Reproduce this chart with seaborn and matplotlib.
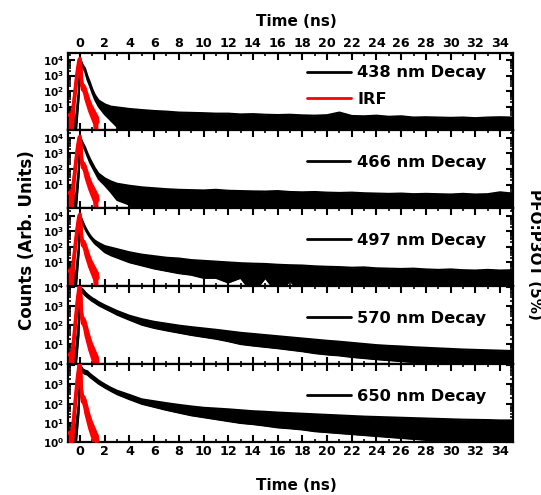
import matplotlib
matplotlib.use("Agg")
import matplotlib.pyplot as plt
from matplotlib.lines import Line2D
from matplotlib.ticker import MultipleLocator, FixedLocator, FixedFormatter, LogLocator, NullFormatter
import numpy as np
import pandas as pd
import seaborn as sns

# ---------------------------------------------------------------- data
# time axis shared by all decay traces (ns)
time_ns = [-0.95, -0.6, -0.3, -0.1, 0.0, 0.1, 0.2, 0.4, 0.6, 0.8, 1.0, 1.2, 1.5, 2.0, 2.5, 3.0,
           4, 5, 6, 7, 8, 9, 10, 11, 12, 13, 14, 15, 16, 17, 18, 19, 20,
           21, 22, 23, 24, 25, 26, 27, 28, 29, 30, 31, 32, 33, 34, 35.05]

# upper / lower edge of each noisy decay trace, log10(counts)
decay_438_hi = [0.0, 0.1, 0.4, 2.0, 4.0, 3.9, 3.7, 3.45, 2.95, 2.55, 2.1, 1.75, 1.4, 1.15, 1.0, 0.95,
                0.85, 0.78, 0.72, 0.68, 0.62, 0.6, 0.58, 0.55, 0.55, 0.5, 0.52, 0.48, 0.46, 0.48, 0.44, 0.42, 0.45,
                0.62, 0.4, 0.38, 0.42, 0.35, 0.38, 0.3, 0.32, 0.3, 0.28, 0.3, 0.26, 0.3, 0.32, 0.3]
decay_438_lo = [-1, -1, -0.5, 1.5, 3.9, 3.75, 3.55, 3.25, 2.7, 2.3, 1.85, 1.45, 1.0, 0.5, 0.1, -0.3,
                -1, -1, -1, -1, -1, -1, -1, -1, -1, -1, -1, -1, -1, -1, -1, -1, -1,
                -1, -1, -1, -1, -1, -1, -1, -1, -1, -1, -1, -1, -1, -1, -1]

decay_466_hi = [0.0, 0.1, 0.4, 2.0, 4.0, 3.9, 3.7, 3.4, 3.0, 2.65, 2.35, 2.05, 1.7, 1.4, 1.2, 1.05,
                0.92, 0.82, 0.76, 0.7, 0.66, 0.64, 0.62, 0.66, 0.6, 0.58, 0.56, 0.55, 0.58, 0.52, 0.5, 0.52, 0.48,
                0.46, 0.48, 0.44, 0.42, 0.4, 0.42, 0.38, 0.4, 0.38, 0.36, 0.4, 0.36, 0.38, 0.5, 0.42]
decay_466_lo = [-1, -1, -0.5, 1.5, 3.9, 3.75, 3.55, 3.2, 2.8, 2.4, 2.1, 1.8, 1.35, 0.95, 0.5, 0.0,
                -0.3, -1, -1, -1, -1, -1, -1, -1, -1, -1, -1, -1, -1, -1, -1, -1, -1,
                -1, -1, -1, -1, -1, -1, -1, -1, -1, -1, -1, -1, -1, -1, -1]

decay_497_hi = [0.0, 0.1, 0.4, 2.0, 4.0, 3.85, 3.65, 3.3, 3.0, 2.75, 2.55, 2.4, 2.25, 2.05, 1.95, 1.85,
                1.65, 1.5, 1.4, 1.3, 1.25, 1.15, 1.1, 1.05, 1.0, 0.95, 0.92, 0.9, 0.85, 0.82, 0.8, 0.75, 0.72,
                0.7, 0.66, 0.68, 0.62, 0.6, 0.58, 0.6, 0.55, 0.52, 0.55, 0.5, 0.48, 0.52, 0.48, 0.5]
decay_497_lo = [-1, -1, -0.5, 1.5, 3.9, 3.7, 3.5, 3.15, 2.85, 2.6, 2.4, 2.2, 2.0, 1.65, 1.45, 1.3,
                1.0, 0.8, 0.6, 0.45, 0.3, 0.2, 0.0, 0.0, -0.3, 0.0, -1, 0.0, -1, -0.2, -1, -1, -1,
                -1, -1, -1, -1, -1, -1, -1, -1, -1, -1, -1, -1, -1, -1, -1]

decay_570_hi = [0.4, 0.5, 0.8, 2.2, 4.0, 3.95, 3.9, 3.75, 3.62, 3.52, 3.42, 3.35, 3.22, 3.05, 2.9, 2.75,
                2.5, 2.32, 2.18, 2.08, 1.98, 1.9, 1.83, 1.76, 1.68, 1.6, 1.54, 1.48, 1.42, 1.36, 1.3, 1.24, 1.18,
                1.13, 1.07, 1.01, 0.95, 0.91, 0.88, 0.84, 0.81, 0.78, 0.75, 0.72, 0.7, 0.68, 0.66, 0.64]
decay_570_lo = [-1, -0.5, 0.0, 1.5, 3.85, 3.8, 3.72, 3.58, 3.46, 3.36, 3.26, 3.18, 3.05, 2.88, 2.72, 2.55,
                2.28, 2.02, 1.85, 1.72, 1.6, 1.48, 1.38, 1.28, 1.15, 1.0, 0.92, 0.85, 0.78, 0.7, 0.62, 0.52, 0.45,
                0.4, 0.32, 0.26, 0.2, 0.15, 0.1, 0.05, 0.0, -0.1, -0.15, -0.3, -0.2, -0.3, -0.3, -0.3]

decay_650_hi = [0.4, 0.6, 0.9, 2.0, 3.5, 3.9, 3.8, 3.72, 3.68, 3.55, 3.45, 3.35, 3.2, 3.0, 2.82, 2.67,
                2.45, 2.22, 2.12, 2.02, 1.93, 1.85, 1.78, 1.74, 1.7, 1.65, 1.6, 1.57, 1.53, 1.5, 1.47, 1.44, 1.41,
                1.38, 1.35, 1.32, 1.3, 1.28, 1.26, 1.24, 1.22, 1.2, 1.18, 1.16, 1.15, 1.14, 1.12, 1.12]
decay_650_lo = [-1, -0.5, 0.0, 1.5, 3.2, 3.72, 3.62, 3.54, 3.5, 3.38, 3.28, 3.18, 3.03, 2.83, 2.65, 2.48,
                2.22, 1.98, 1.82, 1.66, 1.52, 1.38, 1.28, 1.18, 1.08, 0.98, 0.92, 0.84, 0.75, 0.7, 0.64, 0.55, 0.5,
                0.45, 0.4, 0.35, 0.3, 0.25, 0.2, 0.15, 0.1, 0.05, 0.0, -0.1, -0.3, -0.3, -0.3, -0.3]

# instrument response function (same in every panel), log10(counts)
irf_time_ns = [-0.95, -0.8, -0.67, -0.5, -0.35, -0.2, -0.08, 0.0, 0.06, 0.12, 0.2, 0.3,
               0.4, 0.5, 0.6, 0.7, 0.8, 0.9, 1.0, 1.1, 1.2, 1.3, 1.4, 1.45]
irf_hi = [0.45, 0.5, 0.4, 1.3, 2.4, 3.4, 4.0, 4.1, 3.6, 2.75, 2.4, 2.35,
          2.2, 1.95, 1.7, 1.45, 1.25, 1.05, 0.9, 0.75, 0.6, 0.45, 0.3, 0.0]
irf_lo = [-1, -1, -1, 1.1, 2.2, 3.2, 3.8, 3.95, 3.4, 2.45, 2.1, 2.05,
          1.8, 1.45, 1.2, 0.95, 0.7, 0.5, 0.3, 0.1, -0.1, -1, -1, -1]

wavelength_labels = ["438 nm Decay", "466 nm Decay", "497 nm Decay", "570 nm Decay", "650 nm Decay"]
decays_hi = [decay_438_hi, decay_466_hi, decay_497_hi, decay_570_hi, decay_650_hi]
decays_lo = [decay_438_lo, decay_466_lo, decay_497_lo, decay_570_lo, decay_650_lo]

x_ticks = [0, 2, 4, 6, 8, 10, 12, 14, 16, 18, 20, 22, 24, 26, 28, 30, 32, 34]
y_ticks = [1, 10, 100, 1000, 10000]

# ---------------------------------------------------------------- style
sns.set_style("ticks")
plt.rcParams.update({
    "font.family": ["DejaVu Sans"],
    "font.weight": "bold",
    "axes.labelweight": "bold",
    "mathtext.fontset": "dejavusans",
    "axes.linewidth": 1.6,
    "axes.edgecolor": "black",
    "axes.labelcolor": "black",
    "text.color": "black",
    "xtick.color": "black",
    "ytick.color": "black",
    "xtick.direction": "in",
    "ytick.direction": "in",
})

fig, axes = plt.subplots(5, 1, figsize=(5.41, 4.95), dpi=100, sharex=True)
fig.subplots_adjust(left=0.1262, right=0.9482, top=0.8939, bottom=0.1071, hspace=0)

t = np.array(time_ns)
ti = np.array(irf_time_ns)

for i, ax in enumerate(axes):
    hi = 10 ** np.array(decays_hi[i])
    lo = 10 ** np.array(decays_lo[i])
    df = pd.DataFrame({"t": t, "hi": hi, "lo": lo})

    # decay trace: noise band plus its edges
    ax.fill_between(df["t"], df["lo"], df["hi"], color="black", lw=0, zorder=2)
    sns.lineplot(data=df, x="t", y="hi", color="black", lw=1.6, estimator=None,
                 ax=ax, zorder=2)
    sns.lineplot(data=df, x="t", y="lo", color="black", lw=1.2, estimator=None,
                 ax=ax, zorder=2)

    # IRF on top
    irf = pd.DataFrame({"t": ti, "hi": 10 ** np.array(irf_hi), "lo": 10 ** np.array(irf_lo)})
    ax.fill_between(irf["t"], irf["lo"], irf["hi"], color="#ff0000", lw=0, zorder=3)
    sns.lineplot(data=irf, x="t", y="hi", color="#ff0000", lw=2.5, estimator=None,
                 ax=ax, zorder=3)
    sns.lineplot(data=irf, x="t", y="lo", color="#ff0000", lw=2.5, estimator=None,
                 ax=ax, zorder=3)

    ax.set_yscale("log")
    if i < 3:
        ax.set_ylim(0.3, 3e4)
    elif i == 3:
        ax.set_ylim(0.9, 1.15e4)
    else:
        ax.set_ylim(1.0, 1.15e4)
    ax.set_xlim(-0.95, 35.05)

    ax.yaxis.set_major_locator(FixedLocator(y_ticks))
    labels = [r"$\mathbf{10^{%d}}$" % k for k in range(5)]
    if i < 4:
        labels[0] = ""
    ax.yaxis.set_major_formatter(FixedFormatter(labels))
    ax.yaxis.set_minor_locator(LogLocator(base=10, subs=np.arange(2, 10), numticks=20))
    ax.yaxis.set_minor_formatter(NullFormatter())

    ax.xaxis.set_major_locator(FixedLocator(x_ticks))
    ax.xaxis.set_minor_locator(MultipleLocator(1))

    ax.tick_params(axis="both", which="major", direction="in", length=5, width=1.5,
                   top=True, right=True, labelsize=9.2, colors="black")
    ax.tick_params(axis="both", which="minor", direction="in", length=2.5, width=1.2,
                   top=True, right=True, colors="black")
    ax.tick_params(axis="y", which="major", labelsize=7.5, pad=3)
    ax.tick_params(axis="x", labelbottom=(i == 4), labeltop=(i == 0))
    ax.tick_params(axis="x", which="major", pad=1.5 if i == 0 else 2.5)
    ax.set_xlabel("")
    ax.set_ylabel("")
    for sp in ax.spines.values():
        sp.set_linewidth(1.6)
        sp.set_color("black")

    handles = [Line2D([], [], color="black", lw=2)]
    names = [wavelength_labels[i]]
    if i == 0:
        handles.append(Line2D([], [], color="#ff0000", lw=2))
        names.append("IRF")
        anchor_y = 0.57
    else:
        anchor_y = 0.59
    ax.legend(handles, names, loc="center right", bbox_to_anchor=(0.94, anchor_y),
              frameon=False, handlelength=2.7, handletextpad=0.4,
              borderpad=0, borderaxespad=0, labelspacing=0.7,
              prop={"weight": "bold", "size": 11.7})

for label in axes[0].get_xticklabels() + axes[4].get_xticklabels():
    label.set_fontweight("bold")

fig.text(0.547, 0.957, "Time (ns)", ha="center", va="center", fontsize=11, fontweight="bold")
fig.text(0.547, 0.02, "Time (ns)", ha="center", va="center", fontsize=11, fontweight="bold")
fig.text(0.05, 0.515, "Counts (Arb. Units)", rotation=90, ha="center", va="center",
         fontsize=12, fontweight="bold")
fig.text(0.988, 0.485, "PFO:P3OT (5%)", rotation=-90, ha="center", va="center",
         fontsize=11, fontweight="bold")

fig.savefig("out.png", dpi=100)
